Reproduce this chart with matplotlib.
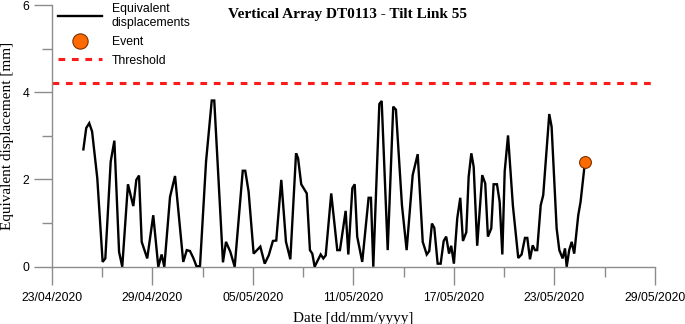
import matplotlib
matplotlib.use("Agg")
import matplotlib.pyplot as plt
import matplotlib.dates as mdates
import matplotlib.ticker as mticker
from matplotlib.lines import Line2D
import pandas as pd

# ---- data ----
start_date = "2020-04-23"
end_date = "2020-05-29"
# time of each sample, in days after 23/04/2020 00:00
day_offsets = [
    1.89, 2.06, 2.24, 2.41, 2.72, 3.04, 3.20, 3.52, 3.74, 4.02, 4.21, 4.55, 4.87, 5.05,
    5.21, 5.37, 5.70, 6.06, 6.36, 6.56, 6.72, 7.06, 7.36, 7.85, 8.06, 8.25, 8.45, 8.65,
    8.85, 9.21, 9.55, 9.70, 10.22, 10.40, 10.66, 10.92, 11.40, 11.55, 11.75, 12.05, 12.25,
    12.45, 12.71, 12.95, 13.20, 13.40, 13.70, 13.98, 14.24, 14.58, 14.70, 14.89, 15.22,
    15.41, 15.55, 15.69, 16.05, 16.21, 16.35, 16.68, 17.04, 17.20, 17.54, 17.70, 17.94,
    18.08, 18.23, 18.53, 18.91, 19.05, 19.19, 19.55, 19.69, 20.05, 20.38, 20.54, 20.90,
    21.18, 21.54, 21.84, 22.14, 22.38, 22.53, 22.69, 22.83, 23.03, 23.21, 23.39, 23.54,
    23.71, 23.84, 24.00, 24.20, 24.38, 24.54, 24.74, 24.88, 25.04, 25.18, 25.39, 25.69,
    25.87, 26.03, 26.23, 26.37, 26.57, 26.73, 26.89, 27.03, 27.23, 27.52, 27.84, 28.04,
    28.24, 28.38, 28.54, 28.70, 28.84, 28.97, 29.18, 29.33, 29.69, 29.83, 30.13, 30.29,
    30.49, 30.63, 30.73, 30.88, 31.03, 31.18, 31.42, 31.56, 31.82,
]
displacement_mm = [
    2.69, 3.18, 3.29, 3.10, 2.03, 0.11, 0.19, 2.41, 2.89, 0.34, 0.00, 1.89, 1.39, 1.99,
    2.09, 0.57, 0.19, 1.18, 0.00, 0.28, 0.00, 1.60, 2.08, 0.11, 0.38, 0.36, 0.20, 0.00,
    0.02, 2.41, 3.81, 3.81, 0.10, 0.57, 0.34, 0.00, 2.20, 2.20, 1.72, 0.30, 0.38,
    0.46, 0.07, 0.26, 0.59, 0.60, 1.99, 0.57, 0.17, 2.60, 2.49, 1.89, 1.68,
    0.38, 0.30, 0.00, 0.28, 0.19, 0.26, 1.68, 0.38, 0.38, 1.28, 0.28, 1.80,
    1.89, 0.69, 0.11, 1.58, 1.58, 0.00, 3.73, 3.80, 0.38, 3.67, 3.60, 1.41,
    0.38, 2.10, 2.58, 0.57, 0.28, 0.36, 0.99, 0.89, 0.07, 0.07, 0.59, 0.69,
    0.30, 0.48, 0.07, 1.11, 1.58, 0.59, 0.79, 2.06, 2.60, 2.29, 0.48, 2.10,
    1.91, 0.69, 0.88, 1.89, 1.89, 1.49, 0.28, 2.18, 3.01, 1.40, 0.20, 0.28,
    0.66, 0.66, 0.17, 0.49, 0.38, 0.38, 1.41, 1.64, 3.50, 3.21, 0.88, 0.38,
    0.19, 0.42, 0.00, 0.38, 0.57, 0.30, 1.18, 1.49, 2.40,
]
event_day_offset = [31.82]
event_value_mm = [2.40]
threshold_mm = 4.22

title = "Vertical Array DT0113 - Tilt Link 55"
xlabel = "Date [dd/mm/yyyy]"
ylabel = "Equivalent displacement [mm]"
legend_labels = ["Equivalent\ndisplacements", "Event", "Threshold"]
y_major = [0, 2, 4, 6]
y_minor = [1, 3, 5]

# ---- build ----
t0 = pd.Timestamp(start_date)
times = t0 + pd.to_timedelta(day_offsets, unit="D")
event_times = t0 + pd.to_timedelta(event_day_offset, unit="D")

sans = ["Liberation Sans", "DejaVu Sans"]
serif = ["Liberation Serif", "DejaVu Serif"]
grey = "#8c8c8c"
orange = "#ff6a00"
red = "#ff1a1a"

fig = plt.figure(figsize=(6.85, 3.24), dpi=100)
ax = fig.add_axes([51.7 / 685, 1 - 266.7 / 324, (655 - 51.7) / 685, (266.7 - 5) / 324])

ax.plot(times, displacement_mm, color="black", lw=1.7, solid_joinstyle="miter", zorder=3)
ax.axhline(threshold_mm, color=red, lw=2.2, linestyle=(0, (2.2, 2.2)), zorder=2)
ax.plot(event_times, event_value_mm, "o", ms=8.5, mfc=orange, mec="#7a3000",
        mew=0.8, zorder=4)

ax.set_xlim(pd.Timestamp(start_date), pd.Timestamp(end_date))
ax.set_ylim(y_major[0], y_major[-1])

ax.xaxis.set_major_locator(mticker.FixedLocator(
    mdates.date2num(pd.date_range(start_date, end_date, freq="6D"))))
ax.xaxis.set_minor_locator(mticker.FixedLocator(
    mdates.date2num(pd.date_range(start_date, end_date, freq="3D"))))
ax.xaxis.set_major_formatter(mdates.DateFormatter("%d/%m/%Y"))
ax.set_yticks(y_major)
ax.set_yticks(y_minor, minor=True)

for s in ["top", "right"]:
    ax.spines[s].set_visible(False)
for s in ["left", "bottom"]:
    ax.spines[s].set_color(grey)
    ax.spines[s].set_linewidth(1.0)

ax.tick_params(axis="both", which="major", length=13, width=1.0, color=grey,
               labelsize=8.8)
ax.tick_params(axis="x", which="major", pad=5)
ax.tick_params(axis="y", which="major", pad=3)
ax.tick_params(axis="both", which="minor", length=7, width=1.0, color=grey)
for lab in ax.get_xticklabels() + ax.get_yticklabels():
    lab.set_fontfamily(sans)

ax.set_xlabel(xlabel, fontfamily=serif, fontsize=11, labelpad=6)
ax.set_ylabel(ylabel, fontfamily=serif, fontsize=11, labelpad=6)

ax.text(0.49, 0.965, title, transform=ax.transAxes, ha="center", va="center",
        fontfamily=serif, fontweight="bold", fontsize=11)

handles = [
    Line2D([], [], color="black", lw=1.7),
    Line2D([], [], ls="none", marker="o", ms=11, mfc=orange, mec="#7a3000", mew=0.8),
    Line2D([], [], color=red, lw=2.2, ls=(0, (2.2, 2.2))),
]
ax.legend(handles, legend_labels, loc="upper left", bbox_to_anchor=(0.0, 1.03),
          frameon=False, prop={"family": sans, "size": 8.8}, handlelength=3.6,
          handletextpad=0.8, labelspacing=0.55, borderpad=0.3, borderaxespad=0.2)

fig.savefig("out.png", dpi=100)
